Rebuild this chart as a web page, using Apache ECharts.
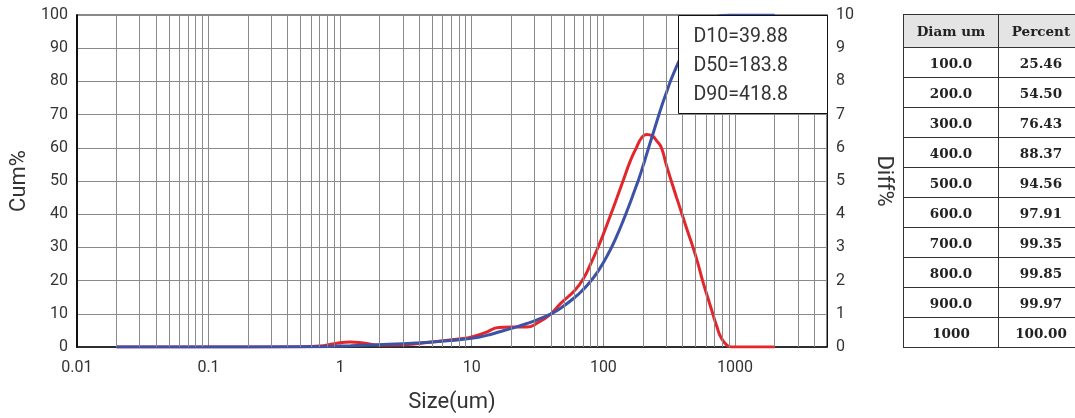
<!DOCTYPE html>
<html>
<head>
<meta charset="utf-8">
<script src="https://cdn.jsdelivr.net/npm/echarts@6/dist/echarts.min.js"></script>
<style>
  html, body { margin: 0; padding: 0; background: #fff; }
  #wrap { position: relative; width: 1075px; height: 418px; overflow: hidden; }
  #chart { position: absolute; left: 0; top: 0; width: 1075px; height: 418px; }
  #tbl { position: absolute; left: 903px; top: 14px; border-collapse: collapse; table-layout: fixed; width: 180px;
         font-family: "DejaVu Serif", serif; font-weight: bold; font-size: 13.5px; color: #222; }
  #tbl td, #tbl th { border: 1px solid #333; text-align: center; padding: 0; white-space: nowrap; }
  #tbl th { background: #e4e4e4; height: 32px; }
  #tbl td { height: 29px; }
  #tbl .c1 { width: 95px; }
  #tbl .c2 { width: 85px; }
</style>
</head>
<body>
<div id="wrap">
<div id="chart"></div>
<table id="tbl"></table>
</div>
<script>
// ---- data ----
// differential distribution (red, right axis)
const diffSizes = [0.02, 0.1, 0.5, 0.7, 0.9, 1.2, 1.5, 2, 3, 5, 8, 10, 13, 16, 20, 26, 32, 40, 47, 61, 71, 80, 91, 100, 114, 127, 141, 160, 178, 195, 214, 235, 255, 276, 300, 328, 360, 396, 435, 480, 520, 567, 620, 678, 730, 780, 870, 950, 1200, 1500, 2000];
const diffPct   = [0, 0, 0.01, 0.03, 0.1, 0.15, 0.12, 0.06, 0.07, 0.15, 0.24, 0.3, 0.45, 0.59, 0.6, 0.6, 0.74, 1.0, 1.3, 1.72, 2.08, 2.5, 3.0, 3.4, 4.0, 4.5, 5.0, 5.6, 6.0, 6.3, 6.4, 6.36, 6.2, 6.0, 5.5, 5.0, 4.5, 4.0, 3.5, 3.0, 2.55, 2.0, 1.5, 1.0, 0.6, 0.3, 0.05, 0, 0, 0, 0];
// cumulative distribution (blue, left axis)
const cumSizes = [0.02, 0.1, 0.5, 0.7, 0.9, 1.2, 1.5, 2, 3, 5, 8, 10, 13, 16, 20, 26, 32, 40, 47, 61, 71, 80, 91, 100, 114, 127, 141, 160, 178, 184, 200, 214, 235, 255, 276, 300, 328, 360, 400, 419, 450, 500, 550, 600, 650, 700, 800, 900, 1000, 1200, 1500, 2000];
const cumPct   = [0, 0, 0.05, 0.1, 0.2, 0.35, 0.5, 0.7, 1.0, 1.5, 2.2, 2.6, 3.5, 4.5, 5.6, 7.0, 8.3, 10, 11.6, 15.0, 17.5, 19.8, 22.8, 25.46, 29.6, 33.6, 37.9, 43.5, 48.6, 50.1, 54.5, 58.3, 63.5, 68, 72.3, 76.43, 80.7, 84.5, 88.37, 90, 92, 94.56, 96.4, 97.91, 98.8, 99.35, 99.85, 99.97, 100, 100, 100, 100];
const dLabels = ['D10=39.88', 'D50=183.8', 'D90=418.8'];
const tableHeader = ['Diam um', 'Percent'];
const tableDiam = ['100.0', '200.0', '300.0', '400.0', '500.0', '600.0', '700.0', '800.0', '900.0', '1000'];
const tablePercent = ['25.46', '54.50', '76.43', '88.37', '94.56', '97.91', '99.35', '99.85', '99.97', '100.00'];

// ---- table ----
(function () {
  const t = document.getElementById('tbl');
  let h = '<colgroup><col class="c1"><col class="c2"></colgroup>';
  h += '<tr><th>' + tableHeader[0] + '</th><th>' + tableHeader[1] + '</th></tr>';
  for (let i = 0; i < tableDiam.length; i++) {
    h += '<tr><td>' + tableDiam[i] + '</td><td>' + tablePercent[i] + '</td></tr>';
  }
  t.innerHTML = h;
})();

// ---- minor log grid (2..9 per decade) ----
const xMin = 0.01, xMax = 5000;
const minorGrid = [];
for (let d = -2; d <= 3; d++) {
  for (let m = 2; m <= 9; m++) {
    const v = m * Math.pow(10, d);
    if (v < xMax) minorGrid.push(v);
  }
}

const FONT = 'Roboto';
const TXT = '#333';
const GRID = '#8a8a8a';

const chart = echarts.init(document.getElementById('chart'), null, { renderer: 'canvas' });
chart.setOption({
  animation: false,
  textStyle: { fontFamily: FONT },
  grid: { left: 75, top: 15, right: 248, bottom: 70, show: true, borderColor: '#111', borderWidth: 1, backgroundColor: 'transparent' },
  xAxis: {
    type: 'log', logBase: 10, min: xMin, max: xMax,
    name: 'Size(um)', nameLocation: 'middle', nameGap: 44,
    nameTextStyle: { fontSize: 22, color: TXT, fontFamily: FONT },
    axisLine: { show: true, lineStyle: { color: '#111', width: 1.5 } },
    axisTick: { show: false },
    axisLabel: {
      color: TXT, fontSize: 16, margin: 13, fontFamily: FONT,
      formatter: function (v) {
        const l = Math.log10(v);
        if (Math.abs(l - Math.round(l)) > 1e-6) return '';
        return String(Number(Math.pow(10, Math.round(l)).toPrecision(6)));
      }
    },
    splitLine: { show: true, lineStyle: { color: GRID, width: 1 } }
  },
  yAxis: [
    {
      type: 'value', min: 0, max: 100, interval: 10, position: 'left',
      name: 'Cum%', nameLocation: 'middle', nameGap: 43, nameRotate: 90,
      nameTextStyle: { fontSize: 22, color: TXT, fontFamily: FONT },
      axisLine: { show: true, lineStyle: { color: '#111', width: 2 } },
      axisTick: { show: false },
      axisLabel: { color: TXT, fontSize: 16, margin: 9, fontFamily: FONT, padding: [8, 0, 0, 0] },
      splitLine: { show: true, lineStyle: { color: GRID, width: 1 } }
    },
    {
      type: 'value', min: 0, max: 10, interval: 1, position: 'right',
      name: 'Diff%', nameLocation: 'middle', nameGap: 45, nameRotate: -90,
      nameTextStyle: { fontSize: 22, color: TXT, fontFamily: FONT },
      axisLine: { show: true, lineStyle: { color: '#111', width: 1 } },
      axisTick: { show: false },
      axisLabel: { color: TXT, fontSize: 16, margin: 9, fontFamily: FONT, padding: [8, 0, 0, 0] },
      splitLine: { show: false }
    }
  ],
  series: [
    {
      name: 'minorGrid', type: 'line', data: [], silent: true, z: 1,
      markLine: {
        silent: true, symbol: 'none', animation: false,
        label: { show: false },
        lineStyle: { color: GRID, width: 1, type: 'solid' },
        emphasis: { disabled: true },
        data: minorGrid.map(v => ({ xAxis: v }))
      }
    },
    {
      name: 'Diff%', type: 'line', yAxisIndex: 1, z: 3,
      data: diffSizes.map((s, i) => [s, diffPct[i]]),
      showSymbol: false, smooth: 0.5,
      lineStyle: { color: '#e3262b', width: 3 }
    },
    {
      name: 'Cum%', type: 'line', yAxisIndex: 0, z: 4,
      data: cumSizes.map((s, i) => [s, cumPct[i]]),
      showSymbol: false, smooth: 0.5,
      lineStyle: { color: '#3c52a6', width: 3 }
    }
  ],
  graphic: [
    {
      type: 'group', left: 678, top: 15, z: 10,
      children: [
        { type: 'rect', shape: { x: 0, y: 0, width: 149, height: 98 },
          style: { fill: '#fff', stroke: '#111', lineWidth: 1 }, z: 10 },
        { type: 'text', x: 15, y: 22, z: 11,
          style: { text: dLabels[0], font: '19.5px Roboto', fill: TXT, verticalAlign: 'middle' } },
        { type: 'text', x: 15, y: 51, z: 11,
          style: { text: dLabels[1], font: '19.5px Roboto', fill: TXT, verticalAlign: 'middle' } },
        { type: 'text', x: 15, y: 80, z: 11,
          style: { text: dLabels[2], font: '19.5px Roboto', fill: TXT, verticalAlign: 'middle' } }
      ]
    }
  ]
});
</script>
</body>
</html>
